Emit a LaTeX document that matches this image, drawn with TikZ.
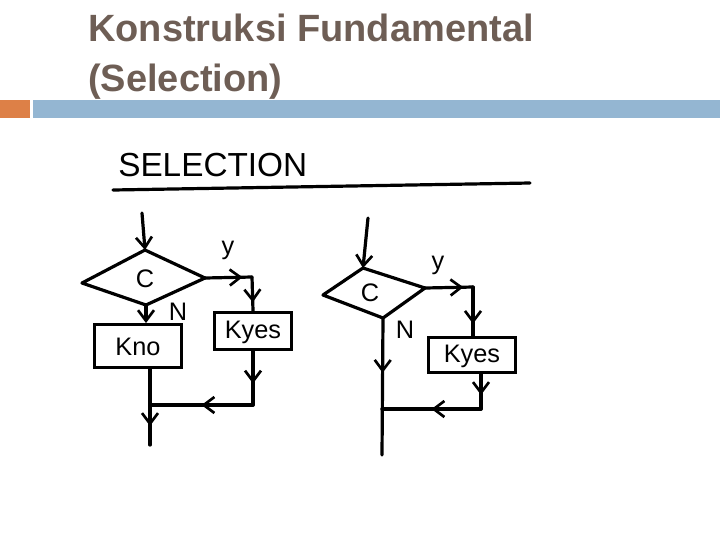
\documentclass[tikz,border=0pt]{standalone}
\usepackage{fontspec}
\setmainfont{Liberation Sans}
\usetikzlibrary{arrows.meta,decorations.markings}
\definecolor{titlec}{HTML}{6E5E55}
\definecolor{barblue}{HTML}{94B6D2}
\definecolor{barorange}{HTML}{DD8047}
\begin{document}
\begin{tikzpicture}[x=0.75pt,y=-0.75pt,
  ln/.style={line width=2.4pt,line cap=round,line join=round},
  mid/.style={postaction={decorate,decoration={markings,mark=at position #1 with {\arrow{Straight Barb[length=8pt,width=12pt,line width=2pt]}}}}},
  endarr/.style={-{Straight Barb[length=8pt,width=12pt,line width=2pt]}},
  hand/.style={font=\fontsize{19}{19}\selectfont},
  box/.style={draw,line width=2.4pt,inner sep=0pt}]
\useasboundingbox (0,0) rectangle (720,540);
\fill[barorange] (0,100) rectangle (30,118);
\fill[barblue] (33,100) rectangle (720,118);
\node[anchor=north west,align=left,text=titlec,font=\bfseries\fontsize{28.5}{37}\selectfont,inner sep=0pt] (title) at (88,14) {Konstruksi Fundamental\\(Selection)};
\node[anchor=west,font=\fontsize{25}{25}\selectfont,inner sep=0pt] (sel) at (118,165) {SELECTION};
\coordinate (u1) at (113,190); \coordinate (u2) at (530,183);
\draw[ln] (u1) -- (u2);
% left
\coordinate (lin) at (142,213);
\coordinate (dlL) at (82,283); \coordinate (dlT) at (145,250); \coordinate (dlR) at (205,278); \coordinate (dlB) at (146,305);
\draw[ln] (dlL) -- (dlT) -- (dlR) -- (dlB) -- cycle;
\node[hand] (c1) at (145,279) {C};
\draw[ln,endarr] (lin) -- (dlT);
\node[box,minimum width=65pt,minimum height=32pt] (kno) at (138,346) {};
\node[hand] (knotxt) at (138,347) {K\textsc{no}};
\draw[ln,endarr] (dlB) -- (kno.north -| dlB);
\node[hand] (n1) at (178,312) {N};
\node[hand] (y1) at (228,250) {y};
\node[box,minimum width=58pt,minimum height=28pt] (ky1) at (253,331) {};
\node[hand] (ky1t) at (253,332) {Kyes};
\coordinate (r1) at (252,277);
\draw[ln,mid=0.8] (dlR) -- (r1);
\draw[ln,mid=0.75] (r1) -- (ky1.north);
\coordinate (b1) at (253,405); \coordinate (j1) at (150,405); \coordinate (e1) at (150,445);
\draw[ln,mid=0.6] (ky1.south) -- (b1);
\draw[ln,mid=0.5] (b1) -- (j1);
\draw[ln,mid=0.75] (kno.south -| j1) -- (e1);
% right
\coordinate (rin) at (368,218);
\coordinate (drL) at (323,295); \coordinate (drT) at (363,268); \coordinate (drR) at (425,288); \coordinate (drB) at (383,318);
\draw[ln] (drL) -- (drT) -- (drR) -- (drB) -- cycle;
\node[hand] (c2) at (370,293) {C};
\draw[ln,endarr] (rin) -- (drT);
\node[hand] (y2) at (438,265) {y};
\node[hand] (n2) at (405,330) {N};
\coordinate (r2) at (473,287);
\draw[ln,mid=0.8] (drR) -- (r2);
\node[box,minimum width=65pt,minimum height=26pt] (ky2) at (472,355) {};
\node[hand] (ky2t) at (472,356) {Kyes};
\draw[ln,mid=0.75] (r2) -- (ky2.north -| r2);
\coordinate (b2) at (481,409); \coordinate (j2) at (382,409); \coordinate (e2) at (382,455);
\draw[ln,mid=0.6] (ky2.south -| b2) -- (b2);
\draw[ln,mid=0.5] (b2) -- (j2);
\draw[ln,mid=0.4] (drB) -- (e2);
\end{tikzpicture}
\end{document}
